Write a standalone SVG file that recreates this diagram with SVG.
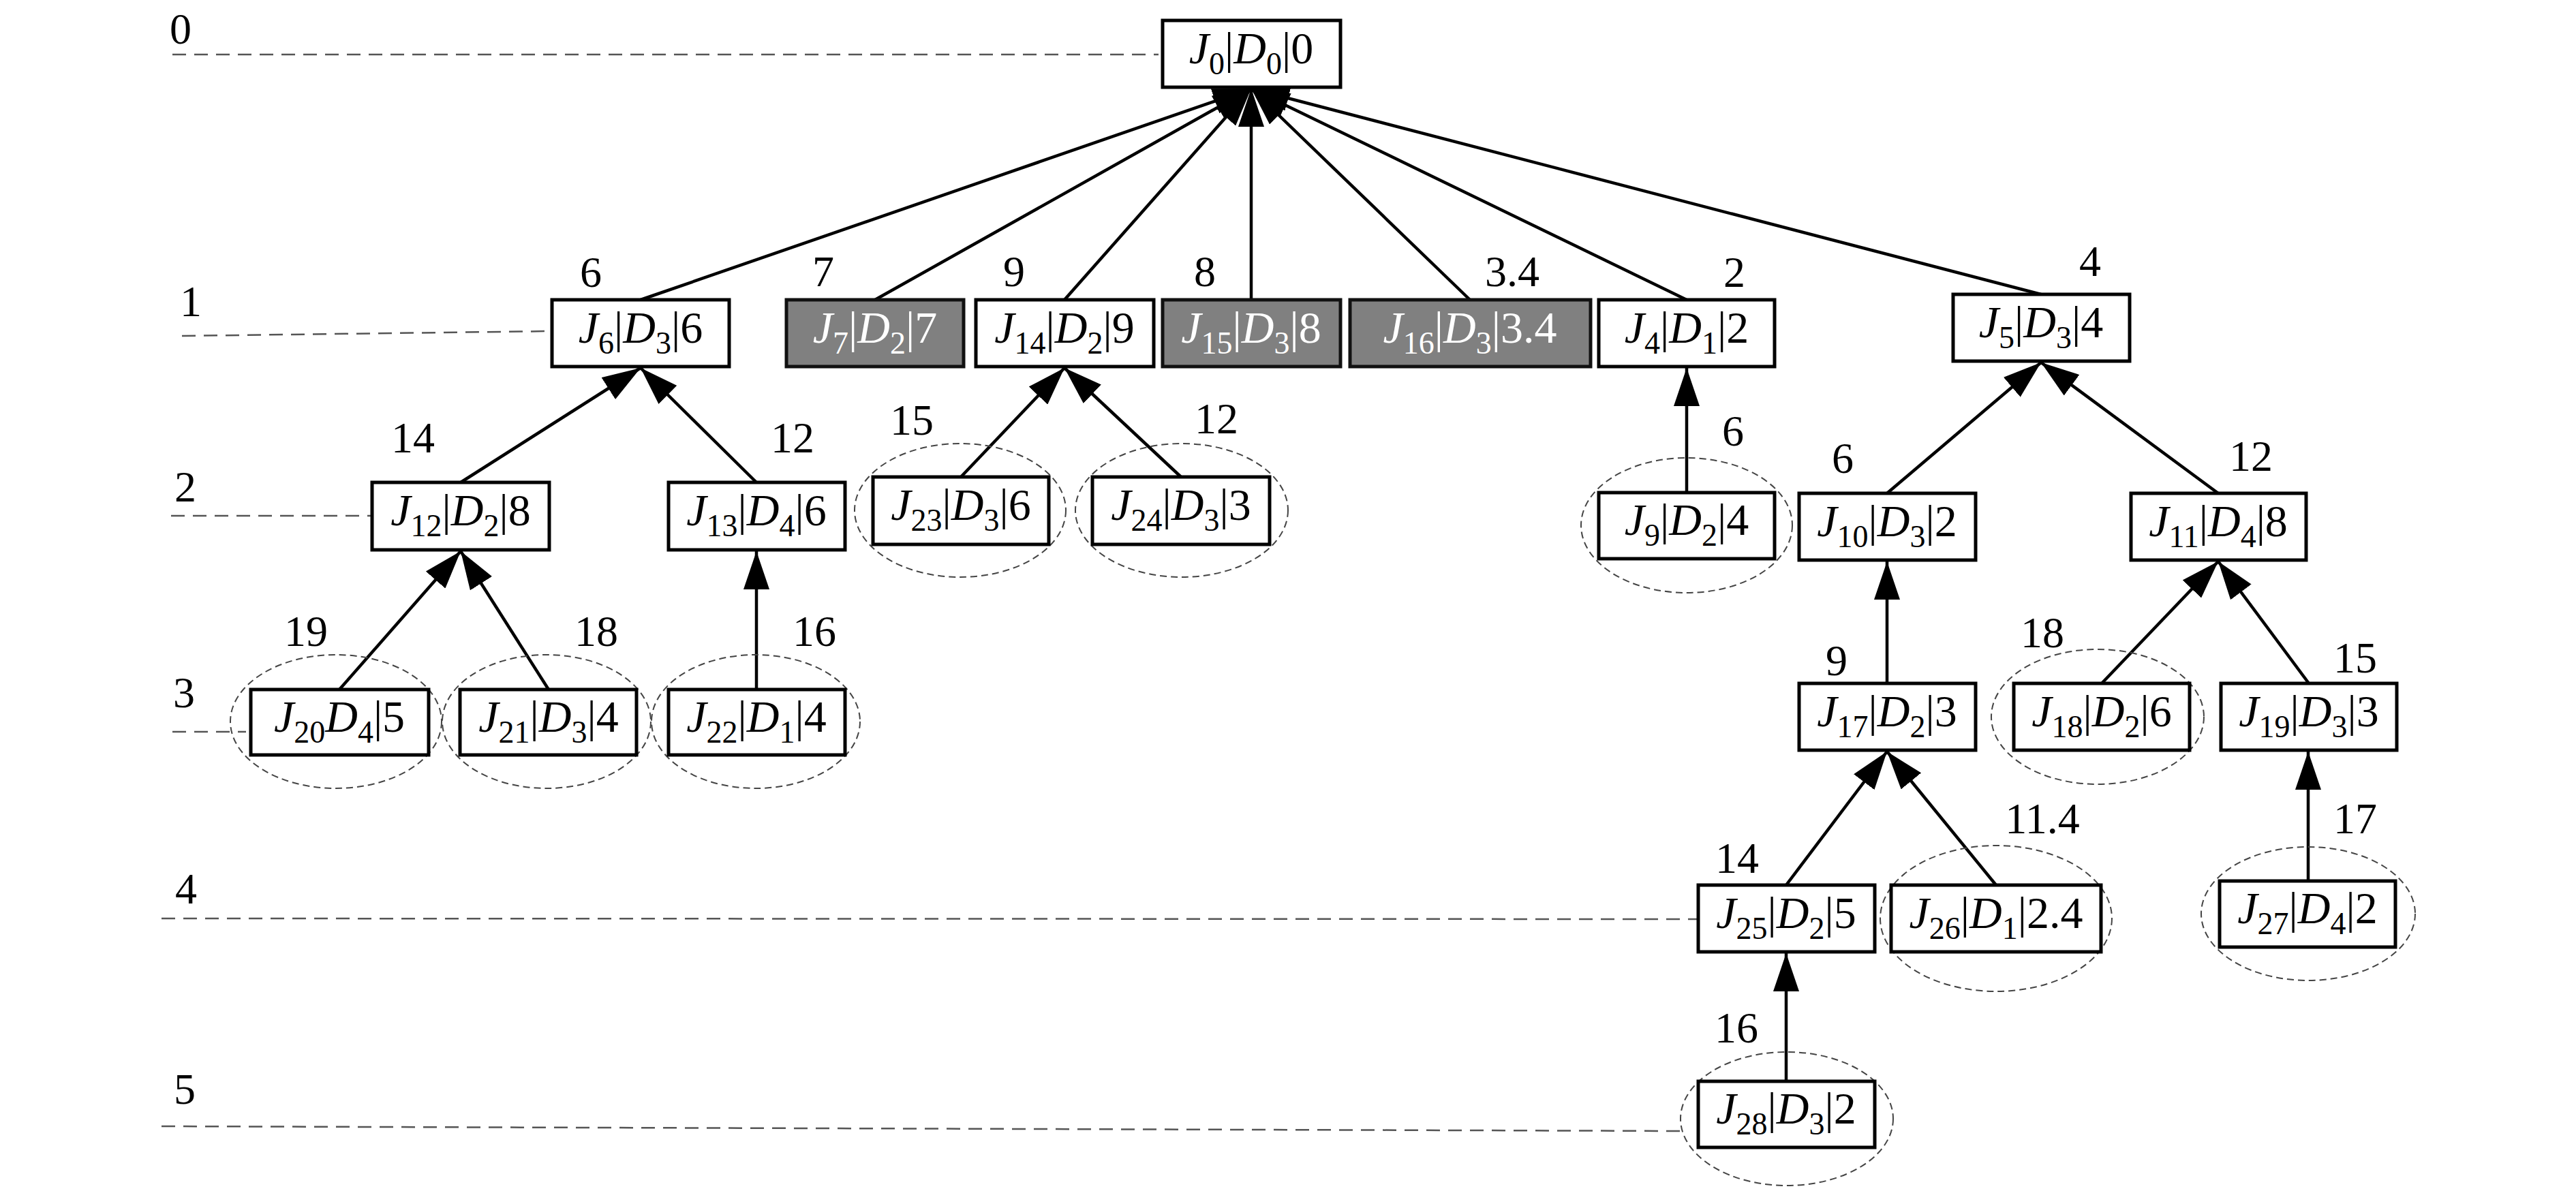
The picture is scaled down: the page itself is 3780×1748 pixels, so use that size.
<svg xmlns="http://www.w3.org/2000/svg" width="3780" height="1748" viewBox="0 0 3780 1748" font-family="'Liberation Serif', serif">
<defs>
<style>
.bg{fill:#fff}
.lvl{stroke:#555;stroke-width:2.5;stroke-dasharray:20 12;fill:none}
.ell{stroke:#444;stroke-width:2;stroke-dasharray:10 6;fill:none}
.box{fill:#fff;stroke:#000;stroke-width:5}
.gbox{fill:#808080;stroke:#111;stroke-width:5}
.edge{stroke:#000;stroke-width:4.5;fill:none;marker-end:url(#arr)}
.t{font-family:'Liberation Serif',serif;font-size:66px;text-anchor:middle;fill:#000}
.w{fill:#fff}
.i{font-style:italic}
.s{font-size:46px}
.lab{font-family:'Liberation Serif',serif;font-size:64px;text-anchor:middle;fill:#000}
</style>
<marker id="arr" markerUnits="userSpaceOnUse" markerWidth="56" markerHeight="38" viewBox="0 0 56 38" refX="56" refY="19" orient="auto">
<path d="M0,0 L56,19 L0,38 z" fill="#000"/>
</marker>
</defs>
<rect class="bg" x="0" y="0" width="3780" height="1748"/>

<g id="levels">
<line class="lvl" x1="253" y1="80" x2="1700" y2="80"/>
<line class="lvl" x1="267" y1="493" x2="808" y2="486"/>
<line class="lvl" x1="251" y1="757" x2="544" y2="757"/>
<line class="lvl" x1="253" y1="1074" x2="361" y2="1074"/>
<line class="lvl" x1="237" y1="1348" x2="2490" y2="1349"/>
<line class="lvl" x1="237" y1="1653" x2="2472" y2="1660"/>
<text class="lab" x="265" y="64">0</text>
<text class="lab" x="280" y="464">1</text>
<text class="lab" x="272" y="736">2</text>
<text class="lab" x="270" y="1038">3</text>
<text class="lab" x="273" y="1326">4</text>
<text class="lab" x="271" y="1620">5</text>
</g>

<g id="connectors">
<line class="edge" x1="940" y1="440" x2="1836" y2="130"/>
<line class="edge" x1="1284" y1="440" x2="1836" y2="130"/>
<line class="edge" x1="1562" y1="440" x2="1836" y2="130"/>
<line class="edge" x1="1836" y1="440" x2="1836" y2="130"/>
<line class="edge" x1="2157" y1="440" x2="1836" y2="130"/>
<line class="edge" x1="2475" y1="440" x2="1836" y2="130"/>
<line class="edge" x1="2995" y1="432" x2="1836" y2="130"/>
<line class="edge" x1="676" y1="708" x2="940" y2="540"/>
<line class="edge" x1="1110" y1="708" x2="940" y2="540"/>
<line class="edge" x1="498" y1="1012" x2="676" y2="809"/>
<line class="edge" x1="805" y1="1012" x2="676" y2="809"/>
<line class="edge" x1="1110" y1="1012" x2="1110" y2="809"/>
<line class="edge" x1="1410" y1="700" x2="1562" y2="540"/>
<line class="edge" x1="1733" y1="700" x2="1562" y2="540"/>
<line class="edge" x1="2475" y1="723" x2="2475" y2="540"/>
<line class="edge" x1="2769" y1="724" x2="2995" y2="532"/>
<line class="edge" x1="3255" y1="724" x2="2995" y2="532"/>
<line class="edge" x1="2769" y1="1003" x2="2769" y2="824"/>
<line class="edge" x1="3084" y1="1003" x2="3255" y2="824"/>
<line class="edge" x1="3388" y1="1003" x2="3255" y2="824"/>
<line class="edge" x1="2621" y1="1299" x2="2769" y2="1103"/>
<line class="edge" x1="2929" y1="1299" x2="2769" y2="1103"/>
<line class="edge" x1="3387" y1="1293" x2="3387" y2="1103"/>
<line class="edge" x1="2621" y1="1587" x2="2621" y2="1399"/>
</g>

<g id="J0"><rect class="box" x="1706" y="30" width="261" height="98"/>
<text class="t" x="1836" y="93"><tspan class="i">J</tspan><tspan class="s" dy="16">0</tspan><tspan dy="-16">|</tspan><tspan class="i">D</tspan><tspan class="s" dy="16">0</tspan><tspan dy="-16">|0</tspan></text></g>

<g id="J6"><rect class="box" x="810" y="440" width="260" height="98"/>
<text class="t" x="940" y="503"><tspan class="i">J</tspan><tspan class="s" dy="16">6</tspan><tspan dy="-16">|</tspan><tspan class="i">D</tspan><tspan class="s" dy="16">3</tspan><tspan dy="-16">|6</tspan></text>
<text class="lab" x="867" y="421">6</text></g>

<g id="J7"><rect class="gbox" x="1154" y="440" width="260" height="98"/>
<text class="t w" x="1284" y="503"><tspan class="i">J</tspan><tspan class="s" dy="16">7</tspan><tspan dy="-16">|</tspan><tspan class="i">D</tspan><tspan class="s" dy="16">2</tspan><tspan dy="-16">|7</tspan></text>
<text class="lab" x="1208" y="420">7</text></g>

<g id="J14"><rect class="box" x="1432" y="440" width="261" height="98"/>
<text class="t" x="1562" y="503"><tspan class="i">J</tspan><tspan class="s" dy="16">14</tspan><tspan dy="-16">|</tspan><tspan class="i">D</tspan><tspan class="s" dy="16">2</tspan><tspan dy="-16">|9</tspan></text>
<text class="lab" x="1488" y="420">9</text></g>

<g id="J15"><rect class="gbox" x="1706" y="440" width="261" height="98"/>
<text class="t w" x="1836" y="503"><tspan class="i">J</tspan><tspan class="s" dy="16">15</tspan><tspan dy="-16">|</tspan><tspan class="i">D</tspan><tspan class="s" dy="16">3</tspan><tspan dy="-16">|8</tspan></text>
<text class="lab" x="1768" y="420">8</text></g>

<g id="J16"><rect class="gbox" x="1981" y="440" width="353" height="98"/>
<text class="t w" x="2157" y="503"><tspan class="i">J</tspan><tspan class="s" dy="16">16</tspan><tspan dy="-16">|</tspan><tspan class="i">D</tspan><tspan class="s" dy="16">3</tspan><tspan dy="-16">|3.4</tspan></text>
<text class="lab" x="2219" y="420">3.4</text></g>

<g id="J4"><rect class="box" x="2346" y="440" width="258" height="98"/>
<text class="t" x="2475" y="503"><tspan class="i">J</tspan><tspan class="s" dy="16">4</tspan><tspan dy="-16">|</tspan><tspan class="i">D</tspan><tspan class="s" dy="16">1</tspan><tspan dy="-16">|2</tspan></text>
<text class="lab" x="2545" y="421">2</text></g>

<g id="J5"><rect class="box" x="2866" y="432" width="259" height="98"/>
<text class="t" x="2995" y="495"><tspan class="i">J</tspan><tspan class="s" dy="16">5</tspan><tspan dy="-16">|</tspan><tspan class="i">D</tspan><tspan class="s" dy="16">3</tspan><tspan dy="-16">|4</tspan></text>
<text class="lab" x="3067" y="405">4</text></g>

<g id="J12"><rect class="box" x="546" y="708" width="260" height="99"/>
<text class="t" x="676" y="771"><tspan class="i">J</tspan><tspan class="s" dy="16">12</tspan><tspan dy="-16">|</tspan><tspan class="i">D</tspan><tspan class="s" dy="16">2</tspan><tspan dy="-16">|8</tspan></text>
<text class="lab" x="606" y="664">14</text></g>

<g id="J13"><rect class="box" x="981" y="708" width="259" height="99"/>
<text class="t" x="1110" y="771"><tspan class="i">J</tspan><tspan class="s" dy="16">13</tspan><tspan dy="-16">|</tspan><tspan class="i">D</tspan><tspan class="s" dy="16">4</tspan><tspan dy="-16">|6</tspan></text>
<text class="lab" x="1163" y="664">12</text></g>

<g id="J23"><ellipse class="ell" cx="1409" cy="749" rx="155" ry="98"/><rect class="box" x="1281" y="700" width="258" height="99"/>
<text class="t" x="1410" y="763"><tspan class="i">J</tspan><tspan class="s" dy="16">23</tspan><tspan dy="-16">|</tspan><tspan class="i">D</tspan><tspan class="s" dy="16">3</tspan><tspan dy="-16">|6</tspan></text>
<text class="lab" x="1338" y="638">15</text></g>

<g id="J24"><ellipse class="ell" cx="1734" cy="749" rx="156" ry="98"/><rect class="box" x="1603" y="700" width="260" height="99"/>
<text class="t" x="1733" y="763"><tspan class="i">J</tspan><tspan class="s" dy="16">24</tspan><tspan dy="-16">|</tspan><tspan class="i">D</tspan><tspan class="s" dy="16">3</tspan><tspan dy="-16">|3</tspan></text>
<text class="lab" x="1785" y="636">12</text></g>

<g id="J9"><ellipse class="ell" cx="2475" cy="771" rx="155" ry="99"/><rect class="box" x="2346" y="723" width="258" height="97"/>
<text class="t" x="2475" y="785"><tspan class="i">J</tspan><tspan class="s" dy="16">9</tspan><tspan dy="-16">|</tspan><tspan class="i">D</tspan><tspan class="s" dy="16">2</tspan><tspan dy="-16">|4</tspan></text>
<text class="lab" x="2543" y="654">6</text></g>

<g id="J10"><rect class="box" x="2640" y="724" width="259" height="98"/>
<text class="t" x="2769" y="787"><tspan class="i">J</tspan><tspan class="s" dy="16">10</tspan><tspan dy="-16">|</tspan><tspan class="i">D</tspan><tspan class="s" dy="16">3</tspan><tspan dy="-16">|2</tspan></text>
<text class="lab" x="2704" y="694">6</text></g>

<g id="J11"><rect class="box" x="3127" y="724" width="257" height="98"/>
<text class="t" x="3255" y="787"><tspan class="i">J</tspan><tspan class="s" dy="16">11</tspan><tspan dy="-16">|</tspan><tspan class="i">D</tspan><tspan class="s" dy="16">4</tspan><tspan dy="-16">|8</tspan></text>
<text class="lab" x="3303" y="691">12</text></g>

<g id="J20"><ellipse class="ell" cx="493" cy="1059" rx="155" ry="98"/><rect class="box" x="368" y="1012" width="261" height="96"/>
<text class="t" x="498" y="1074"><tspan class="i">J</tspan><tspan class="s" dy="16">20</tspan><tspan class="i" dy="-16">D</tspan><tspan class="s" dy="16">4</tspan><tspan dy="-16">|5</tspan></text>
<text class="lab" x="449" y="948">19</text></g>

<g id="J21"><ellipse class="ell" cx="802" cy="1059" rx="153" ry="98"/><rect class="box" x="675" y="1012" width="259" height="96"/>
<text class="t" x="805" y="1074"><tspan class="i">J</tspan><tspan class="s" dy="16">21</tspan><tspan dy="-16">|</tspan><tspan class="i">D</tspan><tspan class="s" dy="16">3</tspan><tspan dy="-16">|4</tspan></text>
<text class="lab" x="875" y="948">18</text></g>

<g id="J22"><ellipse class="ell" cx="1109" cy="1059" rx="153" ry="98"/><rect class="box" x="981" y="1012" width="259" height="96"/>
<text class="t" x="1110" y="1074"><tspan class="i">J</tspan><tspan class="s" dy="16">22</tspan><tspan dy="-16">|</tspan><tspan class="i">D</tspan><tspan class="s" dy="16">1</tspan><tspan dy="-16">|4</tspan></text>
<text class="lab" x="1195" y="948">16</text></g>

<g id="J17"><rect class="box" x="2640" y="1003" width="259" height="98"/>
<text class="t" x="2769" y="1066"><tspan class="i">J</tspan><tspan class="s" dy="16">17</tspan><tspan dy="-16">|</tspan><tspan class="i">D</tspan><tspan class="s" dy="16">2</tspan><tspan dy="-16">|3</tspan></text>
<text class="lab" x="2695" y="991">9</text></g>

<g id="J18"><ellipse class="ell" cx="3078" cy="1052" rx="156" ry="99"/><rect class="box" x="2955" y="1003" width="258" height="98"/>
<text class="t" x="3084" y="1066"><tspan class="i">J</tspan><tspan class="s" dy="16">18</tspan><tspan dy="-16">|</tspan><tspan class="i">D</tspan><tspan class="s" dy="16">2</tspan><tspan dy="-16">|6</tspan></text>
<text class="lab" x="2997" y="950">18</text></g>

<g id="J19"><rect class="box" x="3259" y="1003" width="258" height="98"/>
<text class="t" x="3388" y="1066"><tspan class="i">J</tspan><tspan class="s" dy="16">19</tspan><tspan dy="-16">|</tspan><tspan class="i">D</tspan><tspan class="s" dy="16">3</tspan><tspan dy="-16">|3</tspan></text>
<text class="lab" x="3456" y="987">15</text></g>

<g id="J25"><rect class="box" x="2492" y="1299" width="259" height="98"/>
<text class="t" x="2621" y="1362"><tspan class="i">J</tspan><tspan class="s" dy="16">25</tspan><tspan dy="-16">|</tspan><tspan class="i">D</tspan><tspan class="s" dy="16">2</tspan><tspan dy="-16">|5</tspan></text>
<text class="lab" x="2549" y="1281">14</text></g>

<g id="J26"><ellipse class="ell" cx="2929" cy="1348" rx="170" ry="107"/><rect class="box" x="2775" y="1299" width="308" height="98"/>
<text class="t" x="2929" y="1362"><tspan class="i">J</tspan><tspan class="s" dy="16">26</tspan><tspan dy="-16">|</tspan><tspan class="i">D</tspan><tspan class="s" dy="16">1</tspan><tspan dy="-16">|2.4</tspan></text>
<text class="lab" x="2997" y="1223">11.4</text></g>

<g id="J27"><ellipse class="ell" cx="3387" cy="1341" rx="157" ry="98"/><rect class="box" x="3257" y="1293" width="258" height="97"/>
<text class="t" x="3386" y="1355"><tspan class="i">J</tspan><tspan class="s" dy="16">27</tspan><tspan dy="-16">|</tspan><tspan class="i">D</tspan><tspan class="s" dy="16">4</tspan><tspan dy="-16">|2</tspan></text>
<text class="lab" x="3456" y="1223">17</text></g>

<g id="J28"><ellipse class="ell" cx="2622" cy="1642" rx="156" ry="98"/><rect class="box" x="2492" y="1587" width="259" height="97"/>
<text class="t" x="2621" y="1649"><tspan class="i">J</tspan><tspan class="s" dy="16">28</tspan><tspan dy="-16">|</tspan><tspan class="i">D</tspan><tspan class="s" dy="16">3</tspan><tspan dy="-16">|2</tspan></text>
<text class="lab" x="2548" y="1530">16</text></g>
</svg>
